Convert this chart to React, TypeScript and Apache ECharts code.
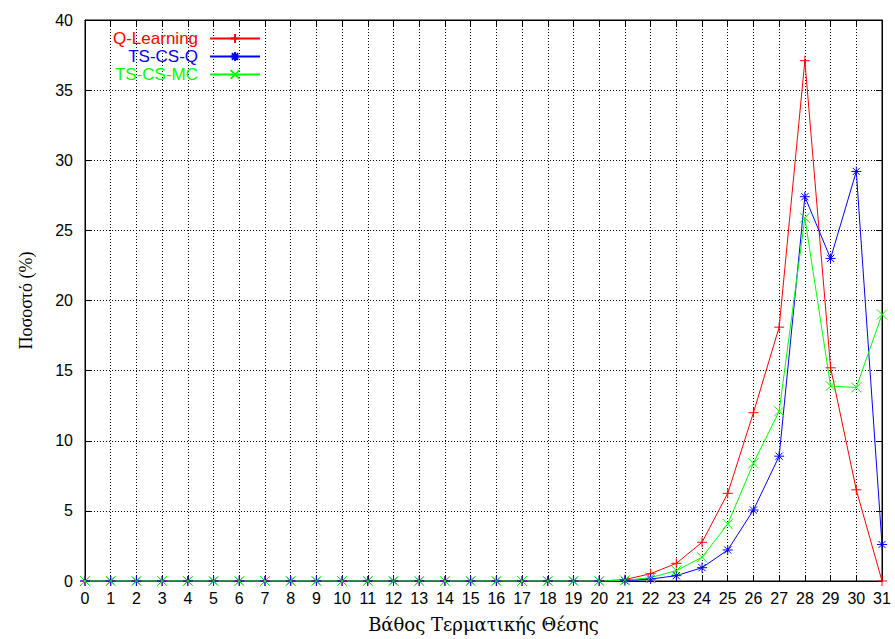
import React, { useEffect, useRef } from "react";
import * as echarts from "echarts";

const depths = Array.from({ length: 32 }, (_, i) => i);
const qLearning = [0, 0, 0, 0, 0, 0, 0, 0, 0, 0, 0, 0, 0, 0, 0, 0, 0, 0, 0, 0, 0, 0.1, 0.52, 1.26, 2.76, 6.25, 12.0, 18.1, 37.1, 15.2, 6.5, 0];
const tsCsQ = [0, 0, 0, 0, 0, 0, 0, 0, 0, 0, 0, 0, 0, 0, 0, 0, 0, 0, 0, 0, 0, 0.02, 0.14, 0.38, 0.95, 2.21, 5.06, 8.9, 27.4, 23.0, 29.2, 2.6];
const tsCsMc = [0, 0, 0, 0, 0, 0, 0, 0, 0, 0, 0, 0, 0, 0, 0, 0, 0, 0, 0, 0, 0, 0.05, 0.24, 0.74, 1.69, 4.06, 8.4, 12.1, 25.9, 13.9, 13.8, 19.0];
const seriesNames = ["Q-Learning", "TS-CS-Q", "TS-CS-MC"];
const seriesColors = ["#ff0000", "#0000ff", "#00ff00"];
const seriesSymbols = [
  "path://M0,-1L0,1M-1,0L1,0",
  "path://M0,-1L0,1M-1,0L1,0M-0.72,-0.72L0.72,0.72M-0.72,0.72L0.72,-0.72",
  "path://M-1,-1L1,1M-1,1L1,-1",
];
const xTitle = "Βάθος Τερματικής Θέσης";
const yTitle = "Ποσοστό (%)";

export default function App() {
  const ref = useRef<HTMLDivElement>(null);
  useEffect(() => {
    if (!ref.current) return;
    const chart = echarts.init(ref.current, undefined, { renderer: "svg" });
    const values = [qLearning, tsCsQ, tsCsMc];
    const tickFont = { fontFamily: "Liberation Sans", fontSize: 16, color: "#000" };
    const gridLine = { show: true, lineStyle: { color: "#000", type: [1, 2], width: 1 } };
    chart.setOption({
      animation: false,
      backgroundColor: "#fff",
      grid: { left: 85, right: 13, top: 20, bottom: 58, show: true, borderColor: "#000", borderWidth: 1, backgroundColor: "transparent" },
      legend: {
        orient: "vertical",
        left: 113,
        top: 30,
        align: "right",
        itemWidth: 50,
        itemHeight: 11,
        itemGap: 1,
        padding: 0,
        data: seriesNames.map((n, i) => ({ name: n, textStyle: { color: seriesColors[i] } })),
        textStyle: { fontFamily: "Liberation Sans", fontSize: 17, lineHeight: 16, padding: [0, 7, 0, 0] },
      },
      xAxis: [
        {
          type: "value",
          min: 0,
          max: 31,
          interval: 1,
          name: xTitle,
          nameLocation: "middle",
          nameGap: 34,
          nameTextStyle: { fontFamily: "DejaVu Serif", fontSize: 18, color: "#000" },
          axisLine: { show: true, onZero: false, lineStyle: { color: "#000" } },
          axisTick: { show: true, inside: true, length: 6, lineStyle: { color: "#000" } },
          axisLabel: { ...tickFont, margin: 9 },
          splitLine: gridLine,
        },
        {
          type: "value",
          position: "top",
          min: 0,
          max: 31,
          interval: 1,
          axisLine: { show: true, onZero: false, lineStyle: { color: "#000" } },
          axisTick: { show: true, inside: true, length: 6, lineStyle: { color: "#000" } },
          axisLabel: { show: false },
          splitLine: { show: false },
        },
      ],
      yAxis: [
        {
          type: "value",
          min: 0,
          max: 40,
          interval: 5,
          name: yTitle,
          nameLocation: "middle",
          nameGap: 50,
          nameRotate: 90,
          nameTextStyle: { fontFamily: "Liberation Serif", fontSize: 18, color: "#000" },
          axisLine: { show: true, onZero: false, lineStyle: { color: "#000" } },
          axisTick: { show: true, inside: true, length: 6, lineStyle: { color: "#000" } },
          axisLabel: { ...tickFont, margin: 12 },
          splitLine: gridLine,
        },
        {
          type: "value",
          position: "right",
          min: 0,
          max: 40,
          interval: 5,
          axisLine: { show: true, onZero: false, lineStyle: { color: "#000" } },
          axisTick: { show: true, inside: true, length: 6, lineStyle: { color: "#000" } },
          axisLabel: { show: false },
          splitLine: { show: false },
        },
      ],
      series: seriesNames.map((name, i) => ({
        name,
        type: "line",
        xAxisIndex: 0,
        yAxisIndex: 0,
        data: depths.map((d, j) => [d, values[i][j]]),
        symbol: seriesSymbols[i],
        symbolSize: 10,
        showAllSymbol: true,
        clip: false,
        lineStyle: { color: seriesColors[i], width: 1 },
        itemStyle: { color: seriesColors[i], borderColor: seriesColors[i], borderWidth: 1 },
        emphasis: { disabled: true },
      })),
    });
    return () => chart.dispose();
  }, []);
  return <div ref={ref} style={{ width: 895, height: 639, position: "absolute", left: 0, top: 0 }} />;
}
